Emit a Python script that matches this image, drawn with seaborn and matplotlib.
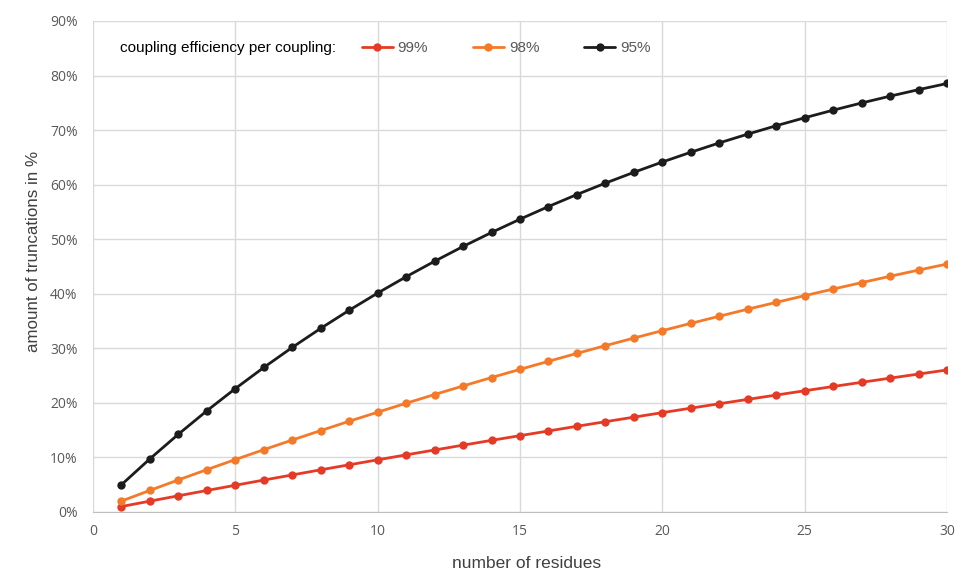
import pandas as pd
import seaborn as sns
import matplotlib.pyplot as plt
from matplotlib.ticker import PercentFormatter

residues = list(range(1, 31))
trunc_99 = [1.0, 1.99, 2.97, 3.94, 4.90, 5.85, 6.79, 7.73, 8.65, 9.56,
            10.47, 11.36, 12.25, 13.13, 13.99, 14.85, 15.71, 16.55, 17.38, 18.21,
            19.03, 19.84, 20.64, 21.43, 22.22, 23.00, 23.77, 24.53, 25.28, 26.03]
trunc_98 = [2.0, 3.96, 5.88, 7.76, 9.61, 11.42, 13.19, 14.92, 16.63, 18.29,
            19.93, 21.53, 23.10, 24.64, 26.14, 27.62, 29.07, 30.49, 31.88, 33.24,
            34.57, 35.88, 37.17, 38.42, 39.65, 40.86, 42.04, 43.20, 44.34, 45.45]
trunc_95 = [5.0, 9.75, 14.26, 18.55, 22.62, 26.49, 30.17, 33.66, 36.98, 40.13,
            43.12, 45.96, 48.67, 51.23, 53.67, 55.99, 58.19, 60.28, 62.26, 64.15,
            65.94, 67.65, 69.26, 70.80, 72.26, 73.65, 74.97, 76.22, 77.41, 78.54]
labels = ["99%", "98%", "95%"]
colors = ["#e53b26", "#f47a2a", "#1c1c1c"]

df = pd.DataFrame({
    "residues": residues * 3,
    "trunc": trunc_99 + trunc_98 + trunc_95,
    "eff": [labels[0]] * 30 + [labels[1]] * 30 + [labels[2]] * 30,
})

sns.set_style("white")
plt.rcParams['font.family'] = ['Liberation Sans', 'DejaVu Sans']

fig = plt.figure(figsize=(9.73, 5.81), dpi=100)
ax = fig.add_axes([0.0956, 0.1188, 0.8777, 0.8451])

sns.lineplot(data=df, x="residues", y="trunc", hue="eff", hue_order=labels,
             palette=colors, marker="o", markersize=6, markeredgewidth=0,
             linewidth=2.0, ax=ax, legend=False)

ax.set_xlim(0, 30)
ax.set_ylim(0, 90)
ax.set_xticks(range(0, 31, 5))
ax.set_yticks(range(0, 91, 10))
ax.yaxis.set_major_formatter(PercentFormatter(decimals=0))
ax.grid(True, color="#d9d9d9", linewidth=1.0)
ax.set_axisbelow(True)
for s in ["top", "right", "left"]:
    ax.spines[s].set_visible(False)
ax.spines["bottom"].set_color("#bfbfbf")
ax.tick_params(axis="x", length=0, labelsize=10, labelcolor="#595959", pad=9)
ax.tick_params(axis="y", length=0, labelsize=10, labelcolor="#595959", pad=11)
for t in ax.get_xticklabels() + ax.get_yticklabels():
    t.set_family("Open Sans")

ax.set_xlabel("number of residues", fontsize=12.5, color="#404040", labelpad=12)
ax.set_ylabel("amount of truncations in %", fontsize=12.2, color="#404040", labelpad=6.5)
ax.xaxis.label.set_x(0.508)
ax.yaxis.label.set_y(0.531)

handles = [plt.Line2D([], [], color=c, marker="o", markersize=6, markeredgewidth=0, linewidth=2.0)
           for c in colors]
fig.text(120 / 973, 1 - 48 / 581, "coupling efficiency per coupling:", fontsize=11,
         color="black", va="center")
leg = fig.legend(handles, labels, ncol=3, loc="center left",
                 bbox_to_anchor=(362 / 973, 1 - 48 / 581), frameon=False,
                 borderpad=0, borderaxespad=0,
                 handlelength=2.0, columnspacing=2.95, handletextpad=0.33,
                 fontsize=11, labelcolor="#595959")

plt.savefig("out.png", dpi=100, facecolor="white")
